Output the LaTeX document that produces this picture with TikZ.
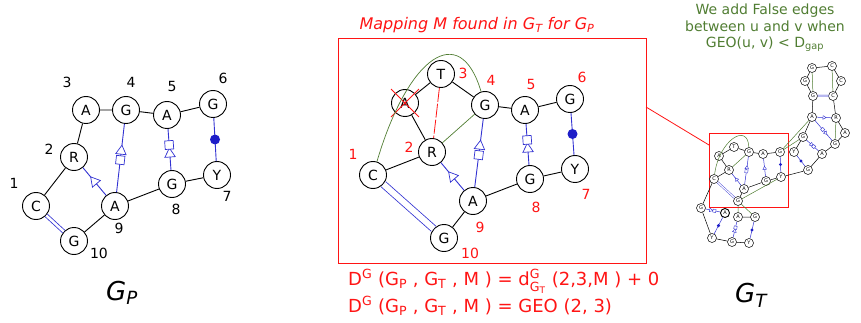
\documentclass[tikz,border=0pt]{standalone}
\usepackage{fontspec}
\usepackage{amsmath}
\setmainfont{DejaVu Sans}
\usetikzlibrary{shapes.geometric,shapes.misc}
\definecolor{lwblue}{RGB}{50,50,210}
\definecolor{dotblue}{RGB}{30,30,200}
\definecolor{grn}{RGB}{80,125,50}
\definecolor{rd}{RGB}{255,20,20}
\tikzset{
  nd/.style={circle, draw, line width=0.9pt, minimum size=27pt, inner sep=0pt, fill=white, font=\fontsize{14}{14}\selectfont},
  sn/.style={circle, draw, line width=0.5pt, minimum size=9pt, inner sep=0pt, fill=white, font=\fontsize{5}{5}\selectfont},
  num/.style={font=\fontsize{14}{14}\selectfont, inner sep=0pt},
  rnum/.style={num, text=rd},
  ed/.style={line width=0.9pt},
  sed/.style={line width=0.5pt},
  bl/.style={draw=lwblue, line width=0.9pt},
  sbl/.style={draw=lwblue, line width=0.5pt},
  dbl/.style={draw=lwblue, double=white, double distance=2.5pt, line width=0.8pt},
  sdbl/.style={draw=lwblue, double=white, double distance=1.2pt, line width=0.4pt},
  gr/.style={draw=grn, line width=0.7pt},
  sgr/.style={draw=grn, line width=0.5pt},
  tri/.style={isosceles triangle, isosceles triangle apex angle=60, draw=lwblue, fill=white, inner sep=0pt, minimum size=9pt, sloped, allow upside down, line width=0.7pt},
  sq/.style={rectangle, draw=lwblue, fill=white, minimum width=8.5pt, minimum height=8.5pt, inner sep=0pt, sloped, line width=0.7pt},
  dotm/.style={circle, fill=dotblue, inner sep=0pt, minimum size=10pt},
  stri/.style={isosceles triangle, isosceles triangle apex angle=60, draw=lwblue, fill=white, inner sep=0pt, minimum size=3.2pt, sloped, allow upside down, line width=0.4pt},
  ssq/.style={rectangle, draw=lwblue, fill=white, minimum size=3pt, inner sep=0pt, sloped, line width=0.4pt},
  sdot/.style={circle, fill=dotblue, inner sep=0pt, minimum size=3.4pt},
  formula/.style={text=rd, font=\fontsize{18}{18}\selectfont, anchor=base west, inner sep=0pt},
}
\begin{document}
\begin{tikzpicture}[x=1pt,y=-1pt]
\useasboundingbox (0,0) rectangle (861,323);

% ---------------- G_P ----------------
\node[nd] (pA3) at (86,110) {A};
\node[nd] (pG4) at (126,110) {G};
\node[nd] (pA5) at (167,115) {A};
\node[nd] (pG6) at (213,104) {G};
\node[nd] (pR2) at (74,157) {R};
\node[nd] (pY7) at (217,175) {Y};
\node[nd] (pG8) at (172,184) {G};
\node[nd] (pC1) at (36,206) {C};
\node[nd] (pA9) at (115,206) {A};
\node[nd] (pG10) at (74,241) {G};
\node[num] (pl3) at (67,82) {3};
\node[num] (pl4) at (131,82) {4};
\node[num] (pl5) at (172,86) {5};
\node[num] (pl6) at (223,78) {6};
\node[num] (pl2) at (49,149) {2};
\node[num] (pl1) at (14,183) {1};
\node[num] (pl7) at (227,196) {7};
\node[num] (pl8) at (176,209) {8};
\node[num] (pl9) at (119,228) {9};
\node[num] (pl10) at (99,253) {10};
\draw[ed] (pA3)--(pG4) (pG4)--(pA5) (pA5)--(pG6) (pA3)--(pR2) (pR2)--(pC1)
          (pG10)--(pA9) (pA9)--(pG8) (pG8)--(pY7);
\draw[dbl] (pC1)--(pG10);
\draw[bl] (pA9) -- node[tri,pos=.6]{} node[sq,pos=.47]{} (pG4);
\draw[bl] (pG8) -- node[tri,pos=.39]{} node[sq,pos=.61]{} (pA5);
\draw[bl] (pA9) -- node[tri,pos=.5]{} (pR2);
\draw[bl] (pG6) -- node[dotm,pos=.5]{} (pY7);
\node[font=\fontsize{26}{26}\selectfont\itshape, anchor=base west, inner sep=0pt] (gp) at (106,300) {G\textsubscript{P}};

% ---------------- middle ----------------
\node[draw=rd, line width=0.8pt, minimum width=308pt, minimum height=225pt, inner sep=0pt] (mbox) at (492,150.5) {};
\node[font=\fontsize{16}{16}\selectfont\itshape, text=rd, inner sep=0pt] (mtitle) at (477,25) {Mapping M found in G\textsubscript{T} for G\textsubscript{P}};
\node[nd] (mT) at (441,74) {T};
\node[nd] (mX) at (405,103) {A};
\node[nd] (mG4) at (485,105) {G};
\node[nd] (mA5) at (525,110) {A};
\node[nd] (mG6) at (570,99) {G};
\node[nd] (mR2) at (432,152) {R};
\node[nd] (mY7) at (575,169) {Y};
\node[nd] (mG8) at (530,179) {G};
\node[nd] (mC1) at (373,175) {C};
\node[nd] (mA9) at (473,201) {A};
\node[nd] (mG10) at (444,238) {G};
\node[draw=rd, cross out, line width=0.9pt, minimum size=27pt, inner sep=0pt] (mcross) at (405,103) {};
\node[rnum] (ml3) at (463,73) {3};
\node[rnum] (ml4) at (491,80) {4};
\node[rnum] (ml5) at (531,84) {5};
\node[rnum] (ml6) at (582,77) {6};
\node[rnum] (ml2) at (409,147) {2};
\node[rnum] (ml1) at (353,154) {1};
\node[rnum] (ml7) at (586,194) {7};
\node[rnum] (ml8) at (536,207) {8};
\node[rnum] (ml9) at (480,227) {9};
\node[rnum] (ml10) at (470,253) {10};
\draw[ed] (mX)--(mT) (mT)--(mG4) (mX)--(mR2) (mR2)--(mC1) (mG4)--(mA5) (mA5)--(mG6)
          (mG10)--(mA9) (mA9)--(mG8) (mG8)--(mY7);
\draw[dbl, double distance=6pt] (mC1)--(mG10);
\draw[bl] (mA9) -- node[tri,pos=.6]{} node[sq,pos=.47]{} (mG4);
\draw[bl] (mG8) -- node[tri,pos=.39]{} node[sq,pos=.61]{} (mA5);
\draw[bl] (mA9) -- node[tri,pos=.5]{} (mR2);
\draw[bl] (mG6) -- node[dotm,pos=.5]{} (mY7);
\draw[draw=rd, line width=0.8pt, dash pattern=on 14pt off 2pt] (mT)--(mR2);
\draw[gr] (mR2)--(mG4);
\draw[gr] (mC1) .. controls (408,56) and (460,20) .. (mG4);

\node[formula] (f1) at (348,285)
  {D\textsuperscript{G} (G\textsubscript{P} , G\textsubscript{T} , M ) = d$^{\text{G}}_{\text{G}_{\text{T}}}$ (2,3,M ) + 0};
\node[formula] (f2) at (348,312)
  {D\textsuperscript{G} (G\textsubscript{P} , G\textsubscript{T} , M ) = GEO (2, 3)};

% ---------------- G_T ----------------
\node[text=grn, font=\fontsize{14}{16.5}\selectfont, align=center, inner sep=0pt] (note) at (765,28)
  {We add False edges\\between u and v when\\ $\mathrm{GEO}$(u, v) < D$_{\mathrm{gap}}$};

\node[draw=rd, line width=0.9pt, minimum width=79pt, minimum height=74pt, inner sep=0pt] (sbox) at (748.5,170) {};
\coordinate (mlink) at (646,107);
\coordinate (slink) at (709,145);
\draw[draw=rd, line width=0.8pt] (mlink) -- (slink);

% top hairpin
\node[sn] (th1) at (812,68) {G};
\node[sn] (th2) at (832,66) {C};
\node[sn] (th3) at (805,81) {G};
\node[sn] (th4) at (841,81) {C};
\node[sn] (th5) at (813,96) {G};
\node[sn] (th6) at (833,96) {C};
\node[sn] (tA1) at (812,117) {A};
\node[sn] (tR) at (836,118) {R};
\node[sn] (tA2) at (845,133) {A};
\node[sn] (tG1) at (803,137) {G};
\node[sn] (tG2) at (835,144) {G};
\node[sn] (tY1) at (794,152) {Y};
\node[sn] (tA3) at (822,154) {A};
\node[sn] (tG3) at (808,170) {G};
% middle
\node[sn] (sA) at (719,156) {A};
\node[sn] (sT) at (734,147) {T};
\node[sn] (sG4) at (749,152) {G};
\node[sn] (sA5) at (763,154) {A};
\node[sn] (sG6) at (780,152) {G};
\node[sn] (sR) at (729,170) {R};
\node[sn] (sY7) at (781,177) {Y};
\node[sn] (sG8) at (766,181) {G};
\node[sn] (sC) at (714,179) {C};
\node[sn] (sA9) at (744,189) {A};
\node[sn] (sG10) at (738,201) {G};
% bottom
\node[sn] (bG) at (701,208) {G};
\node[sn, line width=0.9pt] (bA1) at (725,213) {A};
\node[sn] (bA2) at (738,217) {A};
\node[sn] (bG2) at (755,217) {G};
\node[sn] (bY1) at (712,238) {Y};
\node[sn] (bG3) at (732,242) {G};
\node[sn] (bY2) at (749,243) {Y};

\draw[sed] (th1)--(th2) (th2)--(th4) (th4)--(th6) (th1)--(th3) (th3)--(th5) (th5)--(tA1)
  (th6)--(tR) (tR)--(tA2) (tA2)--(tG2) (tA1)--(tG1) (tG1)--(tY1) (tG2)--(tA3) (tA3)--(tG3)
  (tG3)--(sY7) (sY7)--(sG8) (sG8)--(sA9) (sA9)--(sG10) (sA)--(sT) (sT)--(sG4) (sA)--(sR)
  (sR)--(sC) (sG4)--(sA5) (sA5)--(sG6) (sC)--(bG) (bG)--(bY1) (bY1)--(bG3) (bG3)--(bY2)
  (bA2)--(bG2);
\draw[sdbl] (th5)--(th6) (sC)--(sG10);
\draw[sbl] (tA1) -- node[stri,pos=.5]{} (tR);
\draw[sbl] (tA1) -- node[ssq,pos=.45]{} node[stri,pos=.62]{} (tG2);
\draw[sbl] (tG1) -- node[stri,pos=.4]{} node[ssq,pos=.6]{} (tA3);
\draw[sbl] (tY1) -- node[sdot,pos=.5]{} (tG3);
\draw[sbl] (sG6) -- node[sdot,pos=.5]{} (sY7);
\draw[sbl] (sA9) -- node[stri,pos=.5]{} (sR);
\draw[sbl] (sA9) -- node[ssq,pos=.47]{} node[stri,pos=.6]{} (sG4);
\draw[sbl] (sG8) -- node[stri,pos=.45]{} (sA5);
\draw[sbl] (bG) -- node[stri,pos=.35]{} node[ssq,pos=.6]{} (bA1);
\draw[sbl] (bA1) -- node[sdot,pos=.5]{} (bY1);
\draw[sbl] (bG3) -- node[stri,pos=.4]{} node[ssq,pos=.62]{} (bA2);
\draw[sbl] (bY2) -- node[sdot,pos=.5]{} (bG2);
\draw[sgr] (th1)--(th5) (th2)--(th6) (tR)--(tG2) (sG6)--(tA1) (sG6)--(tG1)
  (sR)--(sG4) (sG10)--(sY7) (sG10)--(bA2) (sG10)--(bG2);
\draw[sgr] (sC) .. controls (719,140) and (748,122) .. (sG4);

\node[font=\fontsize{26}{26}\selectfont\itshape, anchor=base west, inner sep=0pt] (gt) at (735,302) {G\textsubscript{T}};
\end{tikzpicture}
\end{document}
